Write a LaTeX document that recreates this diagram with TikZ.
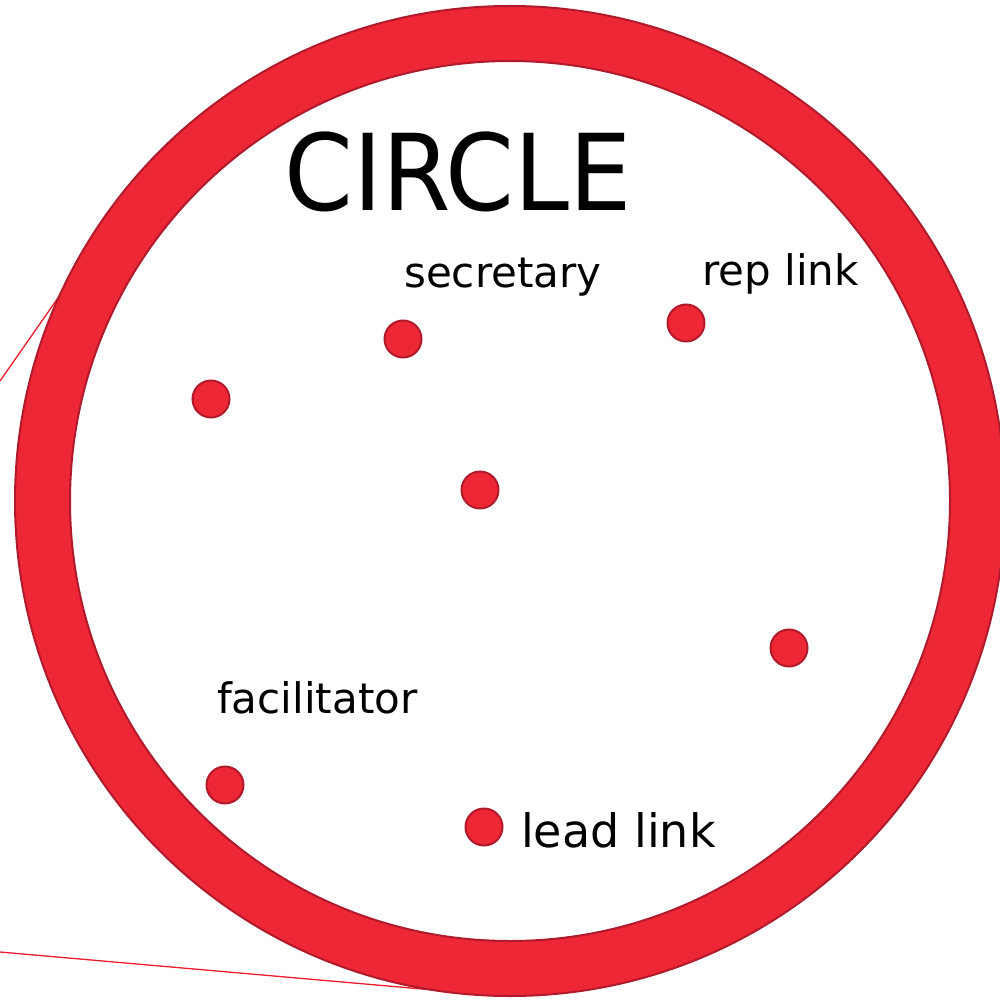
\documentclass[tikz,border=0pt]{standalone}
\usepackage{fontspec}
\setmainfont{DejaVu Sans}
\newfontfamily\narrowfont[FakeStretch=0.93]{DejaVu Sans}
\definecolor{ringfill}{HTML}{EE2737}
\definecolor{ringedge}{HTML}{B01A2B}
\definecolor{linered}{HTML}{EC1C2C}
\begin{document}
\begin{tikzpicture}[x=1pt,y=-1pt,
  member/.style={circle,fill=ringfill,draw=ringedge,line width=2pt,minimum size=37pt,inner sep=0pt},
  lbl/.style={anchor=base west,inner sep=0pt,font=\fontsize{42}{42}\selectfont},
  thinline/.style={draw=linered,line width=1.3pt}]
\useasboundingbox (0,0) rectangle (999,1003);
\coordinate (lineA) at (0,381);
\coordinate (lineB) at (0,952);
\coordinate (ringA) at (90,252);
\coordinate (ringB) at (485,994.5);
\draw[thinline] (lineA) -- (ringA);
\draw[thinline] (lineB) -- (ringB);
\node[circle,minimum size=990pt,inner sep=0pt] (ring) at (510,501) {};
\fill[ringfill,even odd rule] (ring.center) circle[radius=495] (ring.center) circle[radius=440];
\draw[ringedge,line width=2pt] (ring.center) circle[radius=495] (ring.center) circle[radius=440];
\node[anchor=base west,inner sep=0pt,font=\narrowfont\fontsize{106}{106}\selectfont] (title) at (284,210) {CIRCLE};
\node[lbl] (sec) at (404,287) {secretary};
\node[lbl] (rep) at (702,285) {rep link};
\node[lbl] (fac) at (217,713) {facilitator};
\node[lbl,font=\fontsize{46}{46}\selectfont] (lead) at (521,847) {lead link};
\node[member] (m1) at (211,399) {};
\node[member] (m2) at (403,339) {};
\node[member] (m3) at (686,323) {};
\node[member] (m4) at (480,490) {};
\node[member] (m5) at (789,648) {};
\node[member] (m6) at (225,785) {};
\node[member] (m7) at (484,827) {};
\end{tikzpicture}
\end{document}
